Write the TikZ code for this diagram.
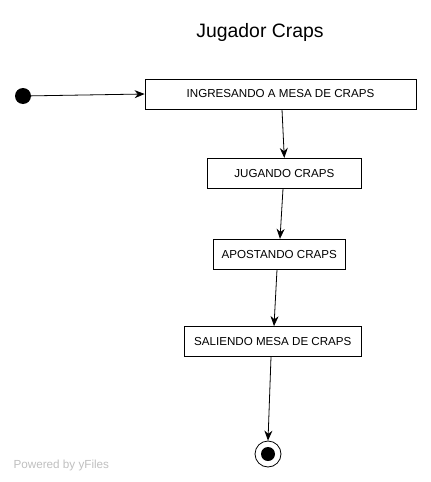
\documentclass[tikz,border=0pt]{standalone}
\usepackage{fontspec}
\setmainfont{Liberation Sans}
\usetikzlibrary{arrows.meta}
\tikzset{
  estado/.style = {draw, line width=0.8pt, inner sep=0pt, minimum height=30pt, font=\fontsize{11.6}{13}\selectfont},
  flecha/.style = {line width=0.8pt, -{Stealth[length=10pt,width=8pt]}}
}

\begin{document}
\begin{tikzpicture}[x=1pt, y=-1pt]
      \useasboundingbox (0,0) rectangle (431,482);

      \node[font=\fontsize{19.4}{22}\selectfont] (titulo) at (260,32) {Jugador Craps};

      \node[circle, fill, inner sep=0pt, minimum size=16pt] (inicio) at (23,96) {};
      \node[estado, minimum width=271pt] (ingresando) at (280.5,94) {INGRESANDO A MESA DE CRAPS};
      \node[estado, minimum width=154pt] (jugando) at (284.3,173.3) {JUGANDO CRAPS};
      \node[estado, minimum width=132pt] (apostando) at (279.3,254.2) {APOSTANDO CRAPS};
      \node[estado, minimum width=177pt] (saliendo) at (272.8,341.5) {SALIENDO MESA DE CRAPS};
      \node[circle, draw, line width=0.8pt, inner sep=0pt, minimum size=26pt] (fin) at (268,454) {};
      \fill (fin.center) circle (7);

      \draw[flecha] (inicio) -- (ingresando.west);
      \draw[flecha] ([xshift=1.5pt]ingresando.south) -- (jugando.north);
      \draw[flecha] ([xshift=-1.3pt]jugando.south) -- ([xshift=0.7pt]apostando.north);
      \draw[flecha] ([xshift=-2.3pt]apostando.south) -- ([xshift=1.2pt]saliendo.north);
      \draw[flecha] ([xshift=-1.8pt]saliendo.south) -- (fin.north);

      \node[anchor=west, text=black!25, font=\fontsize{11.7}{13}\selectfont] (yfiles) at (10,465) {Powered by yFiles};
\end{tikzpicture}
\end{document}
